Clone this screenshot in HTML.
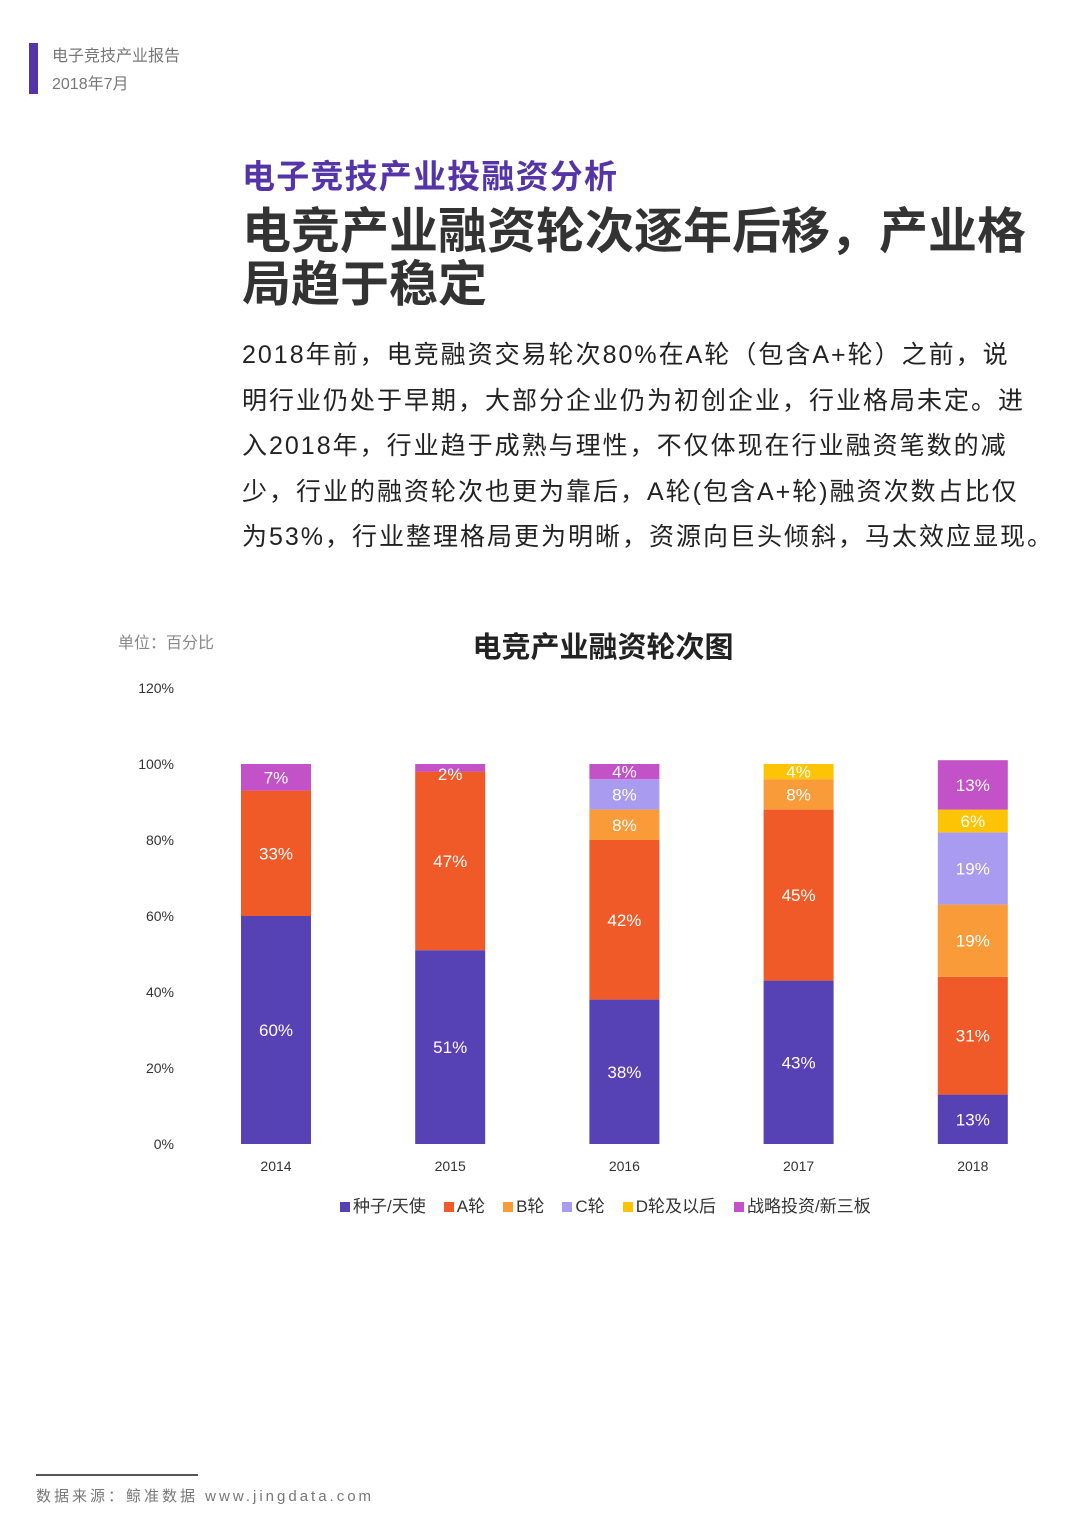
<!DOCTYPE html>
<html><head><meta charset="utf-8">
<style>
*{margin:0;padding:0;box-sizing:border-box}
body{width:1080px;height:1527px;background:#fff;position:relative;overflow:hidden;font-family:"Liberation Sans","Noto Sans CJK SC",sans-serif;color:#333}
.abs{position:absolute}
</style></head><body>
<div class="abs" style="left:29px;top:43px;width:9px;height:51px;background:#5434a6"></div>
<div class="abs" style="left:52px;top:46px;font-size:16px;color:#777;line-height:22px">电子竞技产业报告</div>
<div class="abs" style="left:52px;top:74px;font-size:16px;color:#777;line-height:22px">2018年7月</div>
<div class="abs" style="left:242px;top:156px;font-size:33px;letter-spacing:1.2px;font-weight:bold;color:#5434a6;line-height:42px">电子竞技产业投融资分析</div>
<div class="abs" style="left:242px;top:206px;font-size:49px;font-weight:bold;color:#333;line-height:53px;width:820px;white-space:nowrap">电竞产业融资轮次逐年后移，产业格<br>局趋于稳定</div>
<div class="abs" style="left:242px;top:333px;font-size:25px;letter-spacing:2px;color:#222;line-height:45.5px;width:830px;white-space:nowrap">2018年前，电竞融资交易轮次80%在A轮（包含A+轮）之前，说<br>明行业仍处于早期，大部分企业仍为初创企业，行业格局未定。进<br>入2018年，行业趋于成熟与理性，不仅体现在行业融资笔数的减<br>少，行业的融资轮次也更为靠后，A轮(包含A+轮)融资次数占比仅<br>为53%，行业整理格局更为明晰，资源向巨头倾斜，马太效应显现。</div>
<div class="abs" style="left:118px;top:629px;font-size:16px;color:#888">单位：百分比</div>
<div class="abs" style="left:0;width:1206px;text-align:center;top:624px;font-size:29px;font-weight:bold;color:#222">电竞产业融资轮次图</div>
<svg class="abs" id="chart" style="left:0;top:0" width="1080" height="1230"></svg>
<div class="abs" id="legend" style="left:340px;top:1192px;font-size:17px;color:#333;white-space:nowrap"></div>
<div class="abs" style="left:36px;top:1474px;width:162px;height:2px;background:#555"></div>
<div class="abs" style="left:36px;top:1485px;font-size:15px;color:#777;letter-spacing:3px">数据来源：鲸准数据 www.jingdata.com</div>
<script>
const years=["2014","2015","2016","2017","2018"];
const seriesNames=["种子/天使","A轮","B轮","C轮","D轮及以后","战略投资/新三板"];
const seed=[60,51,38,43,13];
const roundA=[33,47,42,45,31];
const roundB=[0,0,8,8,19];
const roundC=[0,0,8,0,19];
const roundD=[0,0,0,4,6];
const strategic=[7,2,4,0,13];
const yTicks=[0,20,40,60,80,100,120];
const colors=["#5641b5","#f05a28","#f99b38","#a99cf0","#fdc305","#c351c8"];
const series=[seed,roundA,roundB,roundC,roundD,strategic];
const NS="http://www.w3.org/2000/svg";
const svg=document.getElementById('chart');
const y=v=>1144-v*3.8;
const x=i=>276+i*174.2;
const bw=70;
yTicks.forEach(t=>{
  const tx=document.createElementNS(NS,'text');
  
  
  tx.setAttribute('x',174);tx.setAttribute('y',y(t)+5);tx.setAttribute('text-anchor','end');
  tx.setAttribute('font-size','14');tx.setAttribute('fill','#333');tx.textContent=t+'%';
  svg.appendChild(tx);
});
years.forEach((yr,i)=>{
  let acc=0;
  series.forEach((s,k)=>{
    const v=s[i];if(!v)return;
    const r=document.createElementNS(NS,'rect');
    
    
    r.setAttribute('x',x(i)-bw/2);r.setAttribute('y',y(acc+v));
    r.setAttribute('width',bw);r.setAttribute('height',y(acc)-y(acc+v));
    r.setAttribute('fill',colors[k]);svg.appendChild(r);
    const t=document.createElementNS(NS,'text');
    
    
    const ly=v<4?y(acc+v)+16:y(acc+v/2)+6;
    t.setAttribute('x',x(i));t.setAttribute('y',ly);t.setAttribute('text-anchor','middle');
    t.setAttribute('font-size','17');t.setAttribute('fill','#fff');t.textContent=v+'%';
    svg.appendChild(t);
    acc+=v;
  });
  const l=document.createElementNS(NS,'text');
  
  
  l.setAttribute('x',x(i));l.setAttribute('y',1171);l.setAttribute('text-anchor','middle');
  l.setAttribute('font-size','14');l.setAttribute('fill','#333');l.textContent=yr;
  svg.appendChild(l);
});
const lg=document.getElementById('legend');
seriesNames.forEach((n,k)=>{
  const s=document.createElement('span');
  
  
  s.style.marginRight='18px';
  s.innerHTML='<span style="display:inline-block;width:10px;height:10px;background:'+colors[k]+';margin-right:3px"></span>'+n;
  lg.appendChild(s);
});
</script>
</body></html>
